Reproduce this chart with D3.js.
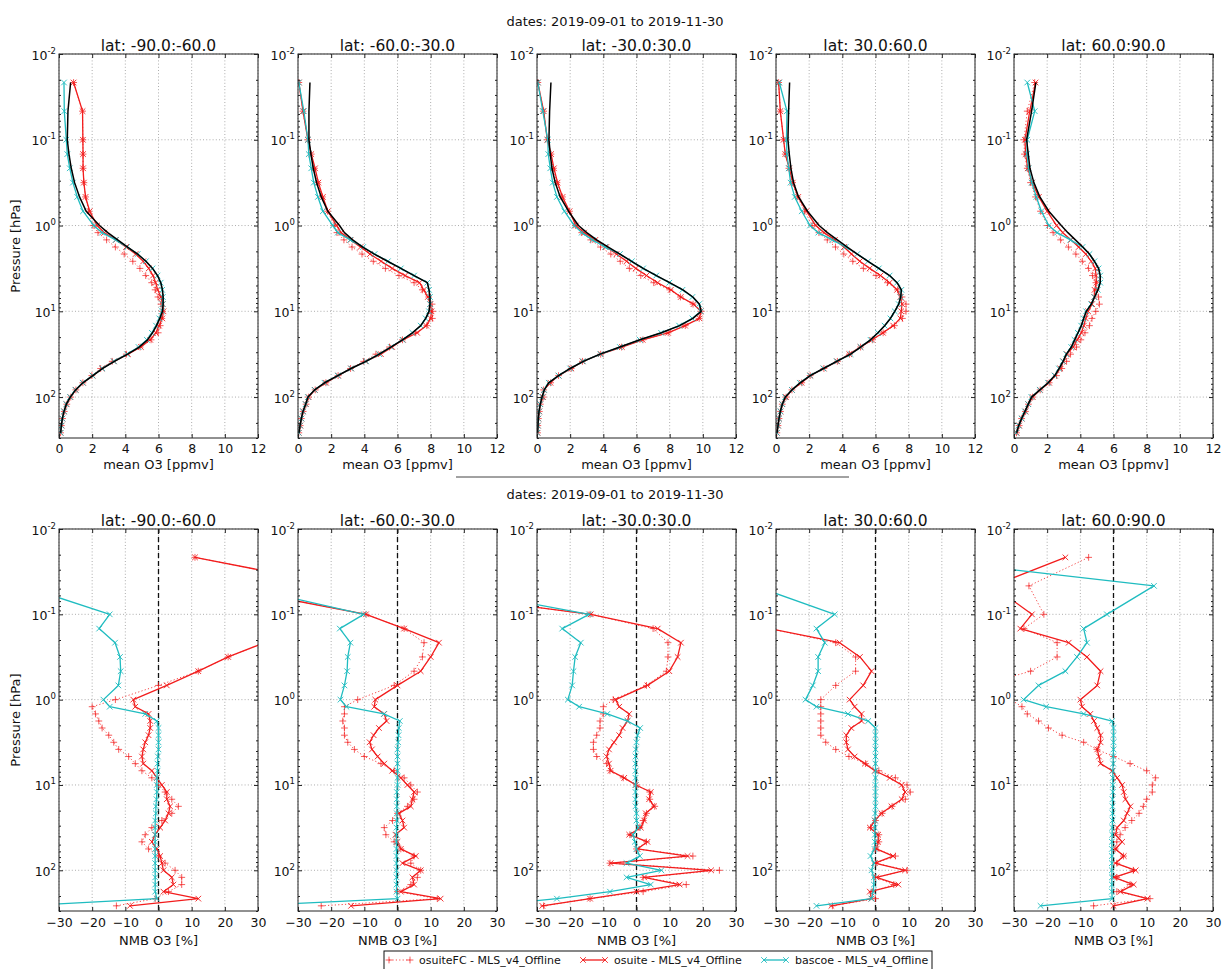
<!DOCTYPE html>
<html>
<head>
<meta charset="utf-8">
<script src="https://cdn.jsdelivr.net/npm/d3@7"></script>
<style>
  html, body { margin: 0; padding: 0; background: #fff; }
  svg { display: block; font-family: "DejaVu Sans", sans-serif; }
</style>
</head>
<body>
<svg id="fig" width="1223" height="969"></svg>
<script>
// ---- data -------------------------------------------------------------
// MLS v4 pressure levels (hPa), bottom to top
const levels = [261, 215, 178, 147, 121, 100, 82.5, 68.1, 56.2, 46.4, 38.3, 31.6, 26.1, 21.5, 17.8, 14.7, 12.1, 10,
  8.25, 6.81, 5.62, 4.64, 3.83, 3.16, 2.61, 2.15, 1.78, 1.47, 1.21, 1.0, 0.681, 0.464, 0.316, 0.215, 0.147, 0.1, 0.0464, 0.0215];

const latBands = ["lat: -90.0:-60.0", "lat: -60.0:-30.0", "lat: -30.0:30.0", "lat: 30.0:60.0", "lat: 60.0:90.0"];
const dateTitle = "dates: 2019-09-01 to 2019-11-30";
const meanTicks = [0, 2, 4, 6, 8, 10, 12];
const nmbTicks = [-30, -20, -10, 0, 10, 20, 30];
const pressureTicks = [0.01, 0.1, 1, 10, 100];
const pressureTickExp = ["-2", "-1", "0", "1", "2"];
const seriesNames = ["osuiteFC - MLS_v4_Offline", "osuite - MLS_v4_Offline", "bascoe - MLS_v4_Offline"];

// mean O3 [ppmv], lat -90:-60
const mls_S90S60 = [0.1, 0.14, 0.2, 0.3, 0.44, 0.68, 1.0, 1.44, 2.04, 2.64, 3.34, 4.14, 4.84, 5.34, 5.64, 5.88, 6.08, 6.24, 6.28, 6.28, 6.24, 6.14, 5.94, 5.64, 5.24, 4.74, 4.14, 3.54, 2.94, 2.44, 1.64, 1.24, 0.94, 0.74, 0.6, 0.5, 0.54, 0.7];
const bascoe_S90S60 = [0.1, 0.14, 0.2, 0.3, 0.44, 0.67, 0.99, 1.43, 2.02, 2.61, 3.31, 4.1, 4.8, 5.3, 5.6, 5.85, 6.05, 6.21, 6.25, 6.26, 6.22, 6.13, 5.94, 5.64, 5.24, 4.74, 4.1, 3.42, 2.6, 2.1, 1.45, 1.1, 0.84, 0.65, 0.5, 0.44, 0.32, 0.3];
const osuite_S90S60 = [0.09, 0.16, 0.2, 0.31, 0.46, 0.69, 1.01, 1.45, 2.03, 2.59, 3.31, 4.16, 4.94, 5.5, 5.84, 6.03, 6.23, 6.3, 6.25, 6.15, 5.95, 5.83, 5.67, 5.41, 5.08, 4.62, 4.04, 3.43, 2.73, 2.3, 1.85, 1.6, 1.5, 1.45, 1.45, 1.44, 1.42, 0.88];
const osuiteFC_S90S60 = [0.09, 0.14, 0.21, 0.32, 0.47, 0.71, 1.02, 1.44, 1.98, 2.51, 3.21, 4.06, 4.89, 5.55, 5.98, 6.1, 6.2, 6.24, 6.15, 5.97, 5.8, 5.59, 5.23, 4.88, 4.45, 3.93, 3.4, 2.87, 2.35, 2.05, 1.8, 1.6, 1.5, 1.45, 1.45, 1.44, 1.42, 0.88];

// mean O3 [ppmv], lat -60:-30
const mls_S60S30 = [0.06, 0.12, 0.2, 0.3, 0.46, 0.6, 1.0, 1.6, 2.4, 3.2, 4.1, 4.9, 5.6, 6.3, 6.9, 7.4, 7.7, 7.9, 7.96, 7.96, 7.9, 7.8, 7.0, 6.2, 5.4, 4.6, 3.9, 3.3, 2.8, 2.5, 1.8, 1.4, 1.12, 0.92, 0.78, 0.66, 0.66, 0.72];
const bascoe_S60S30 = [0.04, 0.12, 0.2, 0.3, 0.46, 0.6, 1.0, 1.6, 2.4, 3.2, 4.1, 4.9, 5.6, 6.3, 6.9, 7.4, 7.7, 7.9, 7.96, 7.96, 7.9, 7.8, 7.0, 6.2, 5.42, 4.62, 3.93, 3.15, 2.4, 2.1, 1.5, 1.2, 0.95, 0.8, 0.65, 0.6, 0.35, 0.05];
const osuite_S60S30 = [0.05, 0.14, 0.2, 0.31, 0.48, 0.64, 1.02, 1.69, 2.42, 3.2, 4.08, 5.0, 5.68, 6.33, 7.18, 7.73, 8.0, 8.05, 7.98, 7.83, 7.58, 7.33, 6.46, 5.68, 5.01, 4.34, 3.77, 3.17, 2.6, 2.33, 1.8, 1.5, 1.23, 1.03, 0.8, 0.6, 0.3, 0.05];
const osuiteFC_S60S30 = [0.05, 0.13, 0.2, 0.31, 0.49, 0.64, 1.04, 1.68, 2.42, 3.17, 3.96, 4.7, 5.52, 6.3, 7.1, 7.77, 8.1, 8.12, 8.08, 7.88, 7.5, 7.0, 6.09, 5.27, 4.54, 3.86, 3.26, 2.77, 2.35, 2.2, 1.78, 1.47, 1.2, 0.99, 0.8, 0.6, 0.3, 0.05];

// mean O3 [ppmv], lat -30:30
const mls_S30N30 = [0.04, 0.06, 0.08, 0.12, 0.2, 0.3, 0.44, 0.7, 1.3, 2.0, 2.8, 3.8, 5.0, 6.2, 7.5, 8.6, 9.4, 9.9, 9.8, 9.4, 8.8, 8.0, 7.2, 6.4, 5.7, 5.0, 4.3, 3.6, 3.0, 2.5, 1.9, 1.4, 1.1, 0.9, 0.8, 0.72, 0.76, 0.84];
const bascoe_S30N30 = [0.02, 0.05, 0.07, 0.12, 0.19, 0.32, 0.43, 0.71, 1.3, 2.0, 2.77, 3.82, 5.0, 6.2, 7.48, 8.57, 9.37, 9.87, 9.77, 9.37, 8.77, 7.98, 7.19, 6.4, 5.72, 5.0, 4.1, 3.35, 2.7, 2.25, 1.65, 1.2, 0.95, 0.8, 0.68, 0.65, 0.35, 0.05];
const osuite_S30N30 = [0.03, 0.05, 0.08, 0.14, 0.2, 0.37, 0.41, 0.81, 1.3, 2.07, 2.74, 3.85, 5.12, 6.37, 7.9, 8.93, 9.8, 9.88, 9.44, 8.67, 8.07, 7.28, 6.6, 5.96, 5.4, 4.79, 4.18, 3.52, 2.84, 2.34, 1.96, 1.54, 1.24, 1.02, 0.85, 0.62, 0.4, 0.05];
const osuiteFC_S30N30 = [0.03, 0.05, 0.08, 0.14, 0.2, 0.38, 0.4, 0.82, 1.3, 2.06, 2.74, 3.84, 5.1, 6.39, 7.91, 8.94, 9.78, 9.9, 9.41, 8.65, 8.01, 7.04, 6.26, 5.57, 5.02, 4.45, 3.83, 3.24, 2.7, 2.33, 1.96, 1.53, 1.2, 0.99, 0.84, 0.62, 0.4, 0.05];

// mean O3 [ppmv], lat 30:60
const mls_N30N60 = [0.06, 0.12, 0.18, 0.26, 0.38, 0.56, 0.96, 1.46, 2.06, 2.86, 3.66, 4.5, 5.1, 5.7, 6.15, 6.55, 6.9, 7.16, 7.4, 7.52, 7.56, 7.3, 6.85, 6.2, 5.55, 4.9, 4.3, 3.7, 3.1, 2.6, 1.9, 1.36, 1.06, 0.9, 0.8, 0.72, 0.76, 0.82];
const bascoe_N30N60 = [0.05, 0.12, 0.18, 0.26, 0.38, 0.55, 0.96, 1.44, 2.05, 2.86, 3.66, 4.5, 5.1, 5.7, 6.15, 6.55, 6.9, 7.16, 7.4, 7.52, 7.56, 7.3, 6.85, 6.2, 5.55, 4.9, 4.2, 3.4, 2.55, 2.05, 1.55, 1.13, 0.88, 0.77, 0.66, 0.63, 0.66, 0.2];
const osuite_N30N60 = [0.05, 0.12, 0.18, 0.28, 0.38, 0.61, 0.96, 1.54, 2.07, 2.88, 3.69, 4.42, 5.09, 5.8, 6.45, 7.07, 7.5, 7.55, 7.6, 7.5, 7.3, 6.85, 6.3, 5.65, 5.05, 4.55, 4.1, 3.55, 2.9, 2.4, 1.83, 1.34, 1.01, 0.8, 0.56, 0.46, 0.26, 0.16];
const osuiteFC_N30N60 = [0.05, 0.12, 0.18, 0.27, 0.38, 0.61, 0.96, 1.55, 2.06, 2.89, 3.7, 4.43, 5.1, 5.81, 6.46, 7.14, 7.62, 7.84, 7.84, 7.6, 7.33, 6.72, 6.03, 5.27, 4.63, 4.09, 3.59, 3.09, 2.59, 2.18, 1.73, 1.28, 1.0, 0.78, 0.56, 0.46, 0.26, 0.16];

// mean O3 [ppmv], lat 60:90
const mls_N60N90 = [0.16, 0.28, 0.46, 0.66, 0.86, 1.06, 1.56, 2.06, 2.46, 2.72, 2.96, 3.16, 3.46, 3.66, 3.86, 4.06, 4.2, 4.36, 4.66, 4.86, 5.06, 5.2, 5.2, 5.1, 4.85, 4.55, 4.15, 3.7, 3.25, 2.85, 2.1, 1.56, 1.2, 0.96, 0.86, 0.76, 1.06, 1.32];
const bascoe_N60N90 = [0.13, 0.28, 0.46, 0.66, 0.86, 1.05, 1.55, 2.05, 2.45, 2.71, 2.95, 3.15, 3.45, 3.65, 3.85, 4.05, 4.2, 4.35, 4.65, 4.85, 5.05, 5.2, 5.2, 5.1, 4.85, 4.55, 4.13, 3.4, 2.6, 2.1, 1.65, 1.35, 1.07, 0.88, 0.78, 0.8, 1.25, 0.8];
const osuite_N60N90 = [0.16, 0.31, 0.47, 0.7, 0.86, 1.13, 1.57, 2.12, 2.47, 2.79, 2.98, 3.19, 3.57, 3.81, 4.06, 4.21, 4.33, 4.47, 4.71, 4.84, 4.86, 4.97, 4.95, 4.9, 4.66, 4.33, 3.9, 3.44, 2.94, 2.57, 2.0, 1.5, 1.1, 0.83, 0.7, 0.66, 0.95, 1.3];
const osuiteFC_N60N90 = [0.15, 0.31, 0.46, 0.69, 0.87, 1.12, 1.58, 2.12, 2.56, 2.88, 3.17, 3.41, 3.77, 4.03, 4.28, 4.55, 4.7, 4.93, 5.15, 5.1, 4.96, 4.94, 4.73, 4.49, 4.12, 3.73, 3.28, 2.81, 2.36, 2.02, 1.6, 1.3, 1.0, 0.8, 0.63, 0.6, 0.8, 1.25];

// NMB O3 [%] against MLS, lat -90:-60
const nmbOsuiteFC_S90S60 = [-12.7, -1, 3, 7, 7, 5, 2, 0, -3, -5, -4, -2, 1, 4, 6, 4, 2, 0, -2, -5, -7, -9, -12, -13.5, -15, -17, -18, -19, -20, -13, 0, 12, 21, 32, 50, 70, 55, 11];
const nmbOsuite_S90S60 = [-8.6, 12, 1.5, 4.5, 4, 1.5, 1, 0.5, -0.5, -2, -1, 0.5, 2, 3, 3.5, 2.5, 2.5, 1, -0.5, -2, -4.6, -5, -4.6, -4, -3, -2.5, -2.5, -3, -7, -7.6, 2.5, 12, 21, 32, 50, 70, 55, 11];
const nmbBascoe_S90S60 = [-41, -0.5, -1, -1, -1, -1, -1, -1, -1, -1, -1, -1, -1, -0.8, -0.8, -0.6, -0.5, -0.5, -0.5, -0.3, -0.3, -0.2, 0, 0, 0, 0, -0.5, -4, -14.7, -16.6, -12.1, -11.4, -11.6, -13.1, -17.9, -14.7, -41, -60];

// NMB O3 [%], lat -60:-30
const nmbOsuiteFC_S60S30 = [-23, 12, 0, 4, 6, 7, 4, 5, 1, -1, -3.5, -4, -1.5, 0, 3, 5, 6, 4, 2, -1, -5, -10, -13, -15, -16, -16, -16.5, -16, -16, -12, -1, 5, 7.5, 8, 2, -9.5, -54, -70];
const nmbOsuite_S60S30 = [-14, 13, 1, 5, 4.5, 7, 1.5, 5.5, 1, 0, -0.6, 2, 1.5, 0.4, 4, 4.5, 5, 3, 1, -1.6, -4, -6, -7.7, -8.4, -7.2, -5.6, -3.3, -4, -7, -6.7, 0, 7, 10, 12.5, 2, -9.5, -54, -70];
const nmbBascoe_S60S30 = [-45, 0, -0.3, -0.3, -0.3, -0.3, -0.3, -0.3, -0.3, -0.3, -0.3, -0.3, -0.2, -0.2, -0.2, -0.2, -0.2, 0, 0, 0, 0, 0, 0, 0.2, 0.3, 0.4, 0.7, -4.1, -15.4, -17.2, -16, -15.2, -15, -14.2, -17.4, -10.2, -48, -60];

// NMB O3 [%], lat -30:30
const nmbOsuiteFC_S30N30 = [-28, -14, 2, 15, 2, 25, -8, 17, 0, 3, -2, 1, 2, 3, 5.5, 4, 4, 0, -4, -8, -9, -12, -13, -13, -12, -11, -11, -10, -10, -7, 3, 9, 9.5, 9.5, 5, -14, -80, -100];
const nmbOsuite_S30N30 = [-28.4, -14, 0, 13, 2.3, 22.5, -7.8, 15.4, 0.3, 3.3, -2.2, 1.3, 2.3, 2.8, 5.3, 3.8, 4.3, -0.2, -3.7, -7.8, -8.3, -9, -8.3, -6.8, -5.2, -4.2, -2.7, -2.2, -5.2, -6.3, 3.3, 9.9, 12.4, 13.4, 6.4, -13.8, -80, -100];
const nmbBascoe_S30N30 = [-45, -24, -8, 4.3, -3, 7.5, -3, 1, 0, -0.5, -1, 0.5, 0, 0, -0.3, -0.3, -0.3, -0.3, -0.3, -0.3, -0.3, -0.3, -0.2, 0, 0.3, 1.1, -2.7, -8.8, -17.3, -20.7, -19.4, -19, -18.5, -16.8, -22.4, -14.3, -60, -80];

// NMB O3 [%], lat 30:60
const nmbOsuiteFC_N30N60 = [-13, 0, -1, 5.5, 0, 9.5, 0, 6, 0, 1, 1, -1.5, 0, 2, 5, 9, 10.5, 9.5, 6, 1, -3, -8, -12, -15, -16.5, -16.5, -16.5, -16.5, -16.5, -16.5, -12, -6, -6, -12, -32, -60, -80, -80];
const nmbOsuite_N30N60 = [-13.3, -1.2, -1.7, 6.9, 0.3, 8.9, -0.2, 5.3, 0.3, 0.8, 0.8, -1.7, -0.2, 1.8, 4.8, 7.9, 8.9, 7.9, 4.3, -0.2, -3.2, -6.3, -8.3, -8.8, -8.8, -7.3, -4.2, -4.2, -6.3, -7.8, -3.7, -1.2, -4.7, -10.8, -32, -60, -80, -80];
const nmbBascoe_N30N60 = [-17.8, -1.2, -0.7, -0.5, -0.5, -1.2, -0.5, -1.5, -0.3, -0.2, -0.2, -0.2, -0.2, -0.1, 0, 0, 0, 0, 0, 0, 0, 0, 0, 0, 0, 0, -2.2, -8.3, -17.8, -21.1, -18.9, -17.3, -17.3, -15.3, -17.8, -12.3, -36.5, -50];

// NMB O3 [%], lat 60:90
const nmbOsuiteFC_N60N90 = [-6, 11, 1, 5, 1, 6, 1, 3, 0.5, 1, 2, 3.5, 5.5, 7.7, 9, 10, 11.7, 11.7, 12.7, 10, 5, 0, -5, -9, -15.5, -19.6, -22.6, -26, -27.6, -31, -40, -25, -17, -17, -27, -21, -25.5, -7.5];
const nmbOsuite_N60N90 = [0, 10.2, 2.1, 6.1, 0.1, 6.7, 0.6, 3.1, 0.6, 2.6, 0.6, 1.1, 3.1, 4.1, 5.1, 3.6, 3.1, 2.6, 1.1, -0.4, -3.9, -4.4, -4.9, -3.9, -3.9, -4.9, -5.9, -7, -9.5, -10, -4.9, -3.9, -8, -13.5, -28.1, -24.6, -36.4, -14.5];
const nmbBascoe_N60N90 = [-22, -0.4, -0.5, -0.5, -0.5, -0.5, -0.5, -0.5, -0.5, -0.5, -0.4, -0.4, -0.3, -0.3, -0.3, -0.3, -0.2, -0.2, -0.2, -0.2, -0.1, -0.1, 0, 0, 0, 0, -0.4, -9, -20.3, -27.1, -22.6, -14.5, -11, -8, -9, -2, 12.2, -63];

// ---- layout & style ---------------------------------------------------
const svg = d3.select("#fig");
const panelLefts = [59, 298, 537, 776, 1014];
const panelWidth = 199;
const RED = "#f21c1c", CYAN = "#1fbcc0", BLACK = "#000";
const MARK_X = "M-2.8,-2.8L2.8,2.8M-2.8,2.8L2.8,-2.8";
const MARK_PLUS = "M-3.4,0H3.4M0,-3.4V3.4";

const meanSets = [
  [osuiteFC_S90S60, osuite_S90S60, bascoe_S90S60, mls_S90S60],
  [osuiteFC_S60S30, osuite_S60S30, bascoe_S60S30, mls_S60S30],
  [osuiteFC_S30N30, osuite_S30N30, bascoe_S30N30, mls_S30N30],
  [osuiteFC_N30N60, osuite_N30N60, bascoe_N30N60, mls_N30N60],
  [osuiteFC_N60N90, osuite_N60N90, bascoe_N60N90, mls_N60N90]
];
const nmbSets = [
  [nmbOsuiteFC_S90S60, nmbOsuite_S90S60, nmbBascoe_S90S60],
  [nmbOsuiteFC_S60S30, nmbOsuite_S60S30, nmbBascoe_S60S30],
  [nmbOsuiteFC_S30N30, nmbOsuite_S30N30, nmbBascoe_S30N30],
  [nmbOsuiteFC_N30N60, nmbOsuite_N30N60, nmbBascoe_N30N60],
  [nmbOsuiteFC_N60N90, nmbOsuite_N60N90, nmbBascoe_N60N90]
];
// line style per series slot: osuiteFC, osuite, bascoe, MLS
const styles = [
  { color: RED, width: 1.0, dash: "1.2,2.2", marker: MARK_PLUS, opacity: 0.8 },
  { color: RED, width: 1.3, dash: null, marker: MARK_X, opacity: 1 },
  { color: CYAN, width: 1.3, dash: null, marker: MARK_X, opacity: 1 },
  { color: BLACK, width: 1.5, dash: null, marker: null, opacity: 1 }
];

const minorTicks = [];
for (let e = -2; e <= 2; e++) for (let m = 2; m <= 9; m++) {
  const v = m * Math.pow(10, e);
  if (v <= 300) minorTicks.push(v);
}

let clipId = 0;
function drawPanel(cfg) {
  const g = svg.append("g");
  const x = d3.scaleLinear().domain(cfg.xDomain).range([cfg.left, cfg.left + panelWidth]);
  const y = d3.scaleLog().domain([0.01, 300]).range([cfg.top, cfg.top + cfg.height]);
  const bottom = cfg.top + cfg.height, right = cfg.left + panelWidth;

  // dotted grid
  const grid = g.append("g").attr("stroke", "#8a8a8a").attr("stroke-width", 0.7).attr("stroke-dasharray", "1,2.2");
  grid.selectAll(".gx").data(cfg.xTicks).join("line")
    .attr("x1", d => x(d)).attr("x2", d => x(d)).attr("y1", cfg.top).attr("y2", bottom);
  grid.selectAll(".gy").data(pressureTicks).join("line")
    .attr("x1", cfg.left).attr("x2", right).attr("y1", d => y(d)).attr("y2", d => y(d));

  const id = "clip" + (clipId++);
  g.append("clipPath").attr("id", id).append("rect")
    .attr("x", cfg.left).attr("y", cfg.top).attr("width", panelWidth).attr("height", cfg.height);
  const plot = g.append("g").attr("clip-path", `url(#${id})`);

  if (cfg.zeroLine) {
    plot.append("line").attr("x1", x(0)).attr("x2", x(0)).attr("y1", cfg.top).attr("y2", bottom)
      .attr("stroke", "#111").attr("stroke-width", 1.3).attr("stroke-dasharray", "5,3");
  }

  const line = d3.line().x(d => x(d[0])).y(d => y(d[1]));
  cfg.series.forEach((vals, i) => {
    const st = styles[i];
    const pts = vals.map((v, k) => [v, levels[k]]);
    plot.append("path").attr("d", line(pts)).attr("fill", "none")
      .attr("stroke", st.color).attr("stroke-width", st.width).attr("stroke-opacity", st.opacity)
      .attr("stroke-dasharray", st.dash).attr("stroke-linejoin", "round");
    if (st.marker) {
      plot.append("g").selectAll("path").data(pts).join("path")
        .attr("d", st.marker).attr("transform", d => `translate(${x(d[0])},${y(d[1])})`)
        .attr("fill", "none").attr("stroke", st.color).attr("stroke-width", 0.9)
        .attr("stroke-opacity", st.opacity);
    }
  });

  // ticks on all four sides, pointing inward
  const tickStyle = sel => { sel.select(".domain").remove(); sel.selectAll("line").attr("stroke", "#222"); };
  g.append("g").attr("transform", `translate(0,${bottom})`)
    .call(d3.axisBottom(x).tickValues(cfg.xTicks).tickSize(-4).tickPadding(cfg.tickPad).tickFormat(cfg.fmt))
    .call(tickStyle)
    .call(s => s.selectAll("text").attr("font-size", 12.5).attr("fill", "#111").attr("font-family", "DejaVu Sans"));
  g.append("g").attr("transform", `translate(0,${cfg.top})`)
    .call(d3.axisTop(x).tickValues(cfg.xTicks).tickSize(-4).tickFormat("")).call(tickStyle);
  [[d3.axisLeft, cfg.left], [d3.axisRight, right]].forEach(([ax, pos]) => {
    g.append("g").attr("transform", `translate(${pos},0)`)
      .call(ax(y).tickValues(pressureTicks).tickSize(-4).tickFormat("")).call(tickStyle);
    g.append("g").attr("transform", `translate(${pos},0)`)
      .call(ax(y).tickValues(minorTicks).tickSize(-2).tickFormat("")).call(tickStyle);
  });

  // power-of-ten labels
  const yl = g.append("g").attr("font-size", 12.5).attr("fill", "#111").attr("text-anchor", "end");
  pressureTicks.forEach((p, k) => {
    const t = yl.append("text").attr("x", cfg.left - 3).attr("y", y(p) + 5.5).text("10");
    t.append("tspan").attr("dy", -6).attr("font-size", 8.5).text(pressureTickExp[k]);
  });

  // frame
  g.append("rect").attr("x", cfg.left).attr("y", cfg.top).attr("width", panelWidth).attr("height", cfg.height)
    .attr("fill", "none").attr("stroke", "#222").attr("stroke-width", 1);

  // titles and labels
  g.append("text").attr("x", cfg.left + panelWidth / 2).attr("y", cfg.top - 3)
    .attr("text-anchor", "middle").attr("font-size", 15.5).attr("fill", "#111").text(cfg.title);
  g.append("text").attr("x", cfg.left + panelWidth / 2).attr("y", cfg.xLabelY)
    .attr("text-anchor", "middle").attr("font-size", 13).attr("fill", "#111").text(cfg.xLabel);
  if (cfg.yLabel) {
    const cy = cfg.top + cfg.height / 2;
    g.append("text").attr("transform", `translate(20,${cy}) rotate(-90)`)
      .attr("text-anchor", "middle").attr("font-size", 13).attr("fill", "#111").text(cfg.yLabel);
  }
}

const fmtMean = d => String(d);
const fmtNmb = d => (d < 0 ? "\u2212" + Math.abs(d) : String(d));

// upper row: mean profiles
svg.append("text").attr("x", 615).attr("y", 26).attr("text-anchor", "middle")
  .attr("font-size", 13).attr("fill", "#111").text(dateTitle);
panelLefts.forEach((left, i) => drawPanel({
  left, top: 54, height: 384, xDomain: [0, 12], xTicks: meanTicks, fmt: fmtMean, tickPad: 6,
  series: meanSets[i], title: latBands[i], xLabel: "mean O3 [ppmv]", xLabelY: 469,
  yLabel: i === 0 ? "Pressure [hPa]" : null, zeroLine: false
}));

// separator under the upper row
svg.append("line").attr("x1", 456).attr("x2", 849).attr("y1", 477).attr("y2", 477)
  .attr("stroke", "#444").attr("stroke-width", 1);

// lower row: normalised mean bias
svg.append("text").attr("x", 615).attr("y", 499).attr("text-anchor", "middle")
  .attr("font-size", 13).attr("fill", "#111").text(dateTitle);
panelLefts.forEach((left, i) => drawPanel({
  left, top: 529, height: 382, xDomain: [-30, 30], xTicks: nmbTicks, fmt: fmtNmb, tickPad: 7,
  series: nmbSets[i], title: latBands[i], xLabel: "NMB O3 [%]", xLabelY: 945,
  yLabel: i === 0 ? "Pressure [hPa]" : null, zeroLine: true
}));

// legend (three columns along the bottom edge)
const lg = svg.append("g");
lg.append("rect").attr("x", 384).attr("y", 951).attr("width", 548).attr("height", 30)
  .attr("fill", "#fff").attr("stroke", "#111").attr("stroke-width", 1);
const legendItems = [
  { x0: 389, x1: 410, tx: 419, st: styles[0] },
  { x0: 583, x1: 605, tx: 614, st: styles[1] },
  { x0: 764, x1: 786, tx: 795, st: styles[2] }
];
legendItems.forEach((it, k) => {
  const yy = 960;
  lg.append("line").attr("x1", it.x0).attr("x2", it.x1).attr("y1", yy).attr("y2", yy)
    .attr("stroke", it.st.color).attr("stroke-width", it.st.width).attr("stroke-dasharray", it.st.dash)
    .attr("stroke-opacity", it.st.opacity);
  [it.x0, it.x1].forEach(px => lg.append("path").attr("d", it.st.marker)
    .attr("transform", `translate(${px},${yy})`).attr("fill", "none")
    .attr("stroke", it.st.color).attr("stroke-width", 0.9).attr("stroke-opacity", it.st.opacity));
  lg.append("text").attr("x", it.tx).attr("y", yy + 4).attr("font-size", 11).attr("fill", "#111")
    .text(seriesNames[k]);
});
</script>
</body>
</html>
